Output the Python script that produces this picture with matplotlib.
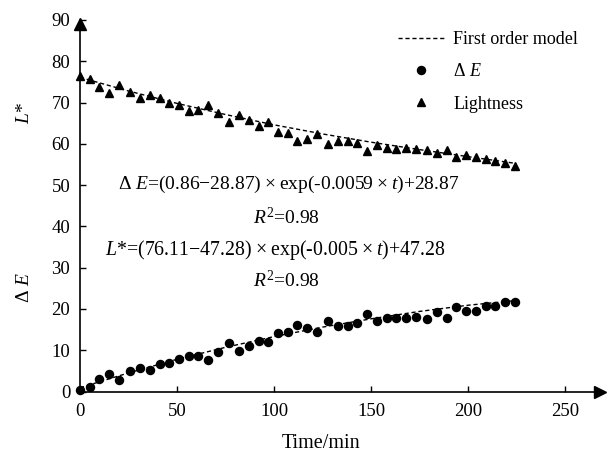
import matplotlib.pyplot as plt
from matplotlib.lines import Line2D

plt.rcParams['font.family'] = 'Liberation Serif'
plt.rcParams['mathtext.fontset'] = 'custom'
plt.rcParams['mathtext.rm'] = 'Liberation Serif'
plt.rcParams['mathtext.it'] = 'Liberation Serif:italic'

# -------------------------------------------------
# Data
# -------------------------------------------------
time_min = [0, 5, 10, 15, 20, 26, 31, 36, 41, 46, 51, 56, 61, 66, 71,
            77, 82, 87, 92, 97, 102, 107, 112, 117, 122, 128, 133, 138,
            143, 148, 153, 158, 163, 168, 173, 179, 184, 189, 194, 199,
            204, 209, 214, 219, 224]

lightness = [76.5, 75.8, 73.8, 72.2, 74.2, 72.6, 71.2, 71.9, 71.2, 69.9,
             69.3, 68.0, 68.3, 69.5, 67.5, 65.3, 66.9, 65.7, 64.3, 65.3,
             62.8, 62.6, 60.8, 61.2, 62.3, 60.0, 60.8, 60.7, 60.2, 58.2,
             59.6, 59.0, 58.8, 59.0, 58.8, 58.5, 57.7, 58.4, 56.8, 57.2,
             56.9, 56.4, 55.8, 55.3, 54.7]

delta_e = [0.4, 1.2, 3.1, 4.3, 2.8, 4.9, 5.7, 5.3, 6.6, 6.9,
           7.9, 8.7, 8.5, 7.6, 9.6, 11.8, 9.9, 11.1, 12.3, 11.9,
           14.2, 14.4, 16.1, 15.4, 14.4, 17.0, 15.8, 15.8, 16.6, 18.8,
           17.2, 17.8, 17.8, 17.8, 18.0, 17.6, 19.3, 17.8, 20.4, 19.5,
           19.6, 20.7, 20.8, 21.7, 21.7]

# dashed first order model curves
model_t = [0, 25, 50, 75, 100, 125, 150, 175, 200, 224]
model_l = [76.1, 72.8, 69.8, 67.1, 64.6, 62.4, 60.4, 58.6, 56.9, 55.3]
model_e = [0.9, 4.5, 7.8, 10.7, 13.3, 15.6, 17.6, 19.4, 20.9, 22.0]

x_ticks = [0, 50, 100, 150, 200, 250]
y_ticks = [0, 10, 20, 30, 40, 50, 60, 70, 80, 90]

# -------------------------------------------------
# Plotting
# -------------------------------------------------
W, H = 610, 454
fig = plt.figure(figsize=(W / 100, H / 100), dpi=100)
ax = fig.add_axes([80 / W, (H - 391.5) / H, 520 / W, 371.5 / H])

dash = dict(color='black', lw=1.0, linestyle=(0, (3, 2)))
ax.plot(model_t, model_l, **dash)
ax.plot(model_t, model_e, **dash)
ax.plot(time_min, delta_e, 'o', color='black', ms=5.8, clip_on=False, zorder=3)
ax.plot(time_min, lightness, '^', color='black', ms=5.8, clip_on=False, zorder=3)

ax.set_xlim(0, 268)
ax.set_ylim(0, 90)
ax.set_xticks(x_ticks)
ax.set_yticks(y_ticks)
ax.tick_params(direction='in', length=4, width=1, labelsize=13.5, colors='black')
ax.tick_params(axis='x', pad=8)
ax.tick_params(axis='y', pad=7)
for side in ['top', 'right']:
    ax.spines[side].set_visible(False)
for side in ['left', 'bottom']:
    ax.spines[side].set_linewidth(1.2)

# arrow heads on the axes
ax.plot(1, 0, '>k', ms=8, transform=ax.transAxes, clip_on=False)
ax.plot(0, 0.988, '^k', ms=8, transform=ax.transAxes, clip_on=False)

# -------------------------------------------------
# Labels and equations
# -------------------------------------------------
fig.text(321 / W, 1 - 443 / H, 'Time/min', ha='center', va='center', fontsize=14.5)
fig.text(25 / W, 1 - 113 / H, '$L$*', ha='center', va='center', rotation=90, fontsize=14)
fig.text(25 / W, 1 - 287 / H, 'Δ $E$', ha='center', va='center', rotation=90, fontsize=14)

eq_size = 14
ts = '\u2009'
fig.text(118 / W, 1 - 184 / H,
         f'Δ $E$=(0.86−28.87){ts}×{ts}exp(-0.0059{ts}×{ts}$t$)+28.87',
         va='center', fontsize=eq_size)
fig.text(253 / W, 1 - 218 / H, '$R^2$=0.98', va='center', fontsize=eq_size)
fig.text(105 / W, 1 - 250 / H,
         f'$L$*=(76.11−47.28){ts}×{ts}exp(-0.005{ts}×{ts}$t$)+47.28',
         va='center', fontsize=eq_size + 0.3)
fig.text(253 / W, 1 - 281 / H, '$R^2$=0.98', va='center', fontsize=eq_size)

handles = [
    Line2D([], [], **dash),
    Line2D([], [], marker='o', color='black', ls='none', ms=5.8),
    Line2D([], [], marker='^', color='black', ls='none', ms=5.8),
]
labels = ['First order model', 'Δ $E$', 'Lightness']
fig.legend(handles, labels, loc='upper left',
           bbox_to_anchor=(398 / W, 1 - 31 / H), frameon=False,
           fontsize=13, handlelength=2.6, handletextpad=0.45,
           labelspacing=0.85, borderpad=0, borderaxespad=0)

fig.savefig('out.png', dpi=100)
